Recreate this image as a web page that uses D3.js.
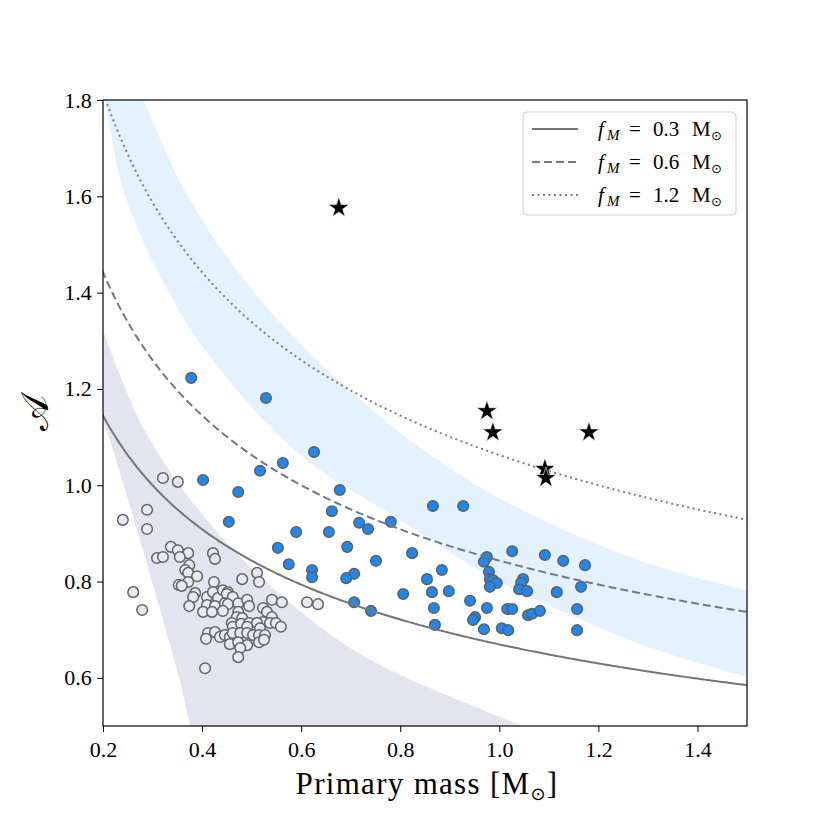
<!DOCTYPE html>
<html><head><meta charset="utf-8">
<script src="https://cdn.jsdelivr.net/npm/d3@7"></script>
<style>
body{margin:0;background:#fff}
text{font-family:"Liberation Serif","DejaVu Serif",serif;fill:#000}
</style>
</head><body>
<svg id="c" width="830" height="830"></svg>
<script>
// ---------------- data ----------------
const xTicks = [0.2,0.4,0.6,0.8,1.0,1.2,1.4];
const yTicks = [0.6,0.8,1.0,1.2,1.4,1.6,1.8];
const fMValues = [0.3, 0.6, 1.2];
const fMLabels = ["0.3","0.6","1.2"];

// blue filled points
const blueM = [0.378,0.529,0.626,0.563,0.517,0.402,0.678,0.473,0.454,0.662,0.717,0.735,0.781,0.866,0.927,0.590,0.656,0.553,0.693,0.751,0.824,0.575,0.622,0.622,0.707,0.691,0.884,0.854,0.864,0.898,0.806,0.707,0.741,0.868,0.941,0.975,0.951,0.947,0.870,0.969,1.005,1.018,0.975,0.969,1.026,1.092,1.129,1.173,0.979,0.981,0.987,0.995,0.981,1.048,1.044,1.040,1.056,1.116,1.165,1.016,1.026,1.058,1.066,1.082,1.157,1.157];
const blueA = [1.223,1.181,1.069,1.046,1.030,1.011,0.990,0.986,0.924,0.946,0.922,0.909,0.924,0.957,0.957,0.903,0.903,0.870,0.872,0.843,0.859,0.836,0.824,0.809,0.816,0.807,0.824,0.805,0.778,0.780,0.774,0.757,0.739,0.745,0.760,0.745,0.726,0.720,0.710,0.701,0.703,0.699,0.851,0.841,0.863,0.855,0.843,0.834,0.820,0.805,0.803,0.797,0.789,0.805,0.797,0.784,0.780,0.778,0.789,0.743,0.743,0.730,0.733,0.739,0.743,0.699];

// grey open points
const greyM = [0.321,0.351,0.289,0.240,0.289,0.337,0.351,0.372,0.355,0.309,0.321,0.422,0.426,0.374,0.366,0.372,0.390,0.372,0.353,0.359,0.424,0.481,0.511,0.515,0.261,0.386,0.382,0.410,0.422,0.432,0.442,0.452,0.450,0.462,0.410,0.426,0.446,0.452,0.374,0.402,0.420,0.442,0.473,0.491,0.495,0.473,0.470,0.481,0.523,0.531,0.541,0.561,0.541,0.523,0.537,0.460,0.462,0.479,0.495,0.491,0.511,0.517,0.549,0.559,0.412,0.408,0.426,0.436,0.446,0.456,0.462,0.477,0.491,0.503,0.515,0.527,0.456,0.473,0.491,0.477,0.515,0.525,0.473,0.406,0.279,0.612,0.634];
const greyA = [1.015,1.007,0.949,0.928,0.909,0.872,0.865,0.859,0.851,0.849,0.851,0.859,0.847,0.834,0.824,0.818,0.811,0.799,0.793,0.791,0.799,0.805,0.818,0.799,0.778,0.776,0.768,0.768,0.778,0.766,0.782,0.778,0.774,0.768,0.751,0.749,0.755,0.753,0.749,0.737,0.737,0.739,0.755,0.762,0.749,0.737,0.726,0.724,0.745,0.737,0.762,0.757,0.726,0.716,0.714,0.714,0.706,0.712,0.714,0.706,0.714,0.703,0.714,0.706,0.693,0.681,0.695,0.685,0.689,0.685,0.693,0.693,0.693,0.689,0.689,0.689,0.670,0.674,0.668,0.662,0.674,0.679,0.643,0.620,0.741,0.757,0.753];

// stars
const starM = [0.676,0.975,0.987,1.181,1.092,1.094];
const starA = [1.576,1.154,1.110,1.110,1.034,1.015];

// shaded bands (edges)
const blueUpM = [0.255,0.281,0.370,0.497,0.719,0.961,1.264,1.500,1.550];
const blueUpA = [1.860,1.800,1.603,1.410,1.177,0.996,0.851,0.782,0.770];
const blueLoM = [0.190,0.204,0.244,0.341,0.426,0.598,0.800,1.000,1.200,1.300,1.500,1.550];
const blueLoA = [1.870,1.800,1.603,1.385,1.254,1.063,0.928,0.800,0.705,0.664,0.602,0.590];
const purpUpM = [0.170,0.200,0.295,0.450,0.638,0.759,1.042,1.150];
const purpUpA = [1.420,1.322,1.094,0.880,0.706,0.627,0.502,0.460];
const purpLoM = [0.180,0.200,0.214,0.355,0.376,0.400];
const purpLoA = [1.180,1.135,1.094,0.595,0.500,0.420];

// ---------------- drawing ----------------
const svg = d3.select("#c");
const L = 103, R = 747, T = 100, B = 726;
const x = d3.scaleLinear().domain([0.2,1.5]).range([L,R]);
const y = d3.scaleLinear().domain([0.5,1.8]).range([B,T]);

svg.append("defs").append("clipPath").attr("id","clip")
  .append("rect").attr("x",L).attr("y",T).attr("width",R-L).attr("height",B-T);

const plot = svg.append("g").attr("clip-path","url(#clip)");

const zip = (a,b) => a.map((v,i)=>[v,b[i]]);
const edge = d3.line().x(d=>x(d[0])).y(d=>y(d[1])).curve(d3.curveCatmullRom.alpha(0.5));
function band(upM,upA,loM,loA){
  const a = edge(zip(upM,upA));
  const b = edge(zip(loM,loA).reverse());
  return a + "L" + b.slice(1) + "Z";
}
plot.append("path").attr("d", band(purpUpM,purpUpA,purpLoM,purpLoA)).attr("fill","#e4e4f1");
plot.append("path").attr("d", band(blueUpM,blueUpA,blueLoM,blueLoA)).attr("fill","#e4f1fe");

// grey open points
plot.selectAll("circle.g").data(zip(greyM,greyA)).enter().append("circle")
  .attr("cx",d=>x(d[0])).attr("cy",d=>y(d[1])).attr("r",5.3)
  .attr("fill","#e9e9f4").attr("stroke","#636363").attr("stroke-width",1.5);
// blue points
plot.selectAll("circle.b").data(zip(blueM,blueA)).enter().append("circle")
  .attr("cx",d=>x(d[0])).attr("cy",d=>y(d[1])).attr("r",5.3)
  .attr("fill","#1e88f2").attr("stroke","#5f5f5f").attr("stroke-width",1.5);

// model curves A = (fM / M)^(1/3)
const styles = [
  {stroke:"#767676", dash:null, w:2},
  {stroke:"#6f7a86", dash:"8,4", w:2},
  {stroke:"#7c7c7c", dash:"2,3.5", w:2}
];
const mGrid = d3.range(0.15, 1.5001, 0.005);
const cl = d3.line().x(d=>x(d[0])).y(d=>y(d[1]));
fMValues.forEach((f,i)=>{
  plot.append("path").attr("d", cl(mGrid.map(m=>[m, Math.cbrt(f/m)])))
    .attr("fill","none").attr("stroke",styles[i].stroke)
    .attr("stroke-width",styles[i].w)
    .attr("stroke-dasharray",styles[i].dash);
});

// stars
plot.selectAll("path.s").data(zip(starM,starA)).enter().append("path")
  .attr("d", d3.symbol(d3.symbolStar, 130)())
  .attr("transform", d=>`translate(${x(d[0])},${y(d[1])})`)
  .attr("fill","#000").attr("stroke","#fff").attr("stroke-width",0.6);

// axes
const xa = svg.append("g").attr("transform",`translate(0,${B})`)
  .call(d3.axisBottom(x).tickValues(xTicks).tickFormat(d3.format(".1f")).tickSize(6).tickSizeOuter(0));
const ya = svg.append("g").attr("transform",`translate(${L},0)`)
  .call(d3.axisLeft(y).tickValues(yTicks).tickFormat(d3.format(".1f")).tickSize(6).tickSizeOuter(0));
[xa,ya].forEach(g=>{
  g.select(".domain").remove();
  g.selectAll(".tick line").attr("stroke","#000").attr("stroke-width",1);
  g.selectAll(".tick text").attr("font-family","Liberation Serif, DejaVu Serif, serif")
   .attr("font-size",22).attr("fill","#000");
});
xa.selectAll(".tick text").attr("dy","1.0em");
ya.selectAll(".tick text").attr("dx","-0.1em");

svg.append("rect").attr("x",L).attr("y",T).attr("width",R-L).attr("height",B-T)
  .attr("fill","none").attr("stroke","#000").attr("stroke-width",1.2);

// axis labels
const xl = svg.append("text").attr("x",(L+R)/2 + 2).attr("y",794).attr("text-anchor","middle")
  .attr("font-size",31).attr("letter-spacing",1.3);
xl.append("tspan").text("Primary mass [M");
xl.append("tspan").text("\u2299").attr("font-family","DejaVu Sans").attr("font-size",18).attr("dy",6);
xl.append("tspan").text("]").attr("dy",-6);

svg.append("text").attr("transform",`translate(48,${(T+B)/2}) rotate(-90)`)
  .attr("text-anchor","middle").attr("font-size",38)
  .attr("font-family","DejaVu Serif, DejaVu Sans, serif").text("\u{1D49C}");

// legend
const lg = svg.append("g");
lg.append("rect").attr("x",523).attr("y",112).attr("width",213).attr("height",103)
  .attr("rx",4).attr("fill","#fff").attr("fill-opacity",0.8).attr("stroke","#d0d0d0");
fMValues.forEach((f,i)=>{
  const yy = 129 + i*33;
  lg.append("line").attr("x1",532).attr("x2",578).attr("y1",yy).attr("y2",yy)
    .attr("stroke",styles[i].stroke).attr("stroke-width",styles[i].w)
    .attr("stroke-dasharray",styles[i].dash);
  const by = yy + 7;
  const t = lg.append("text").attr("y",by).attr("font-size",21);
  t.append("tspan").attr("x",598).text("f").attr("font-style","italic");
  t.append("tspan").attr("x",607).attr("y",by+4).text("M").attr("font-style","italic").attr("font-size",15);
  t.append("tspan").attr("x",629).attr("y",by).text("=");
  t.append("tspan").attr("x",653).text(fMLabels[i]);
  t.append("tspan").attr("x",692).text("M");
  t.append("tspan").attr("x",711).attr("y",by+4).text("\u2299").attr("font-family","DejaVu Sans").attr("font-size",13);
});
</script>
</body></html>
